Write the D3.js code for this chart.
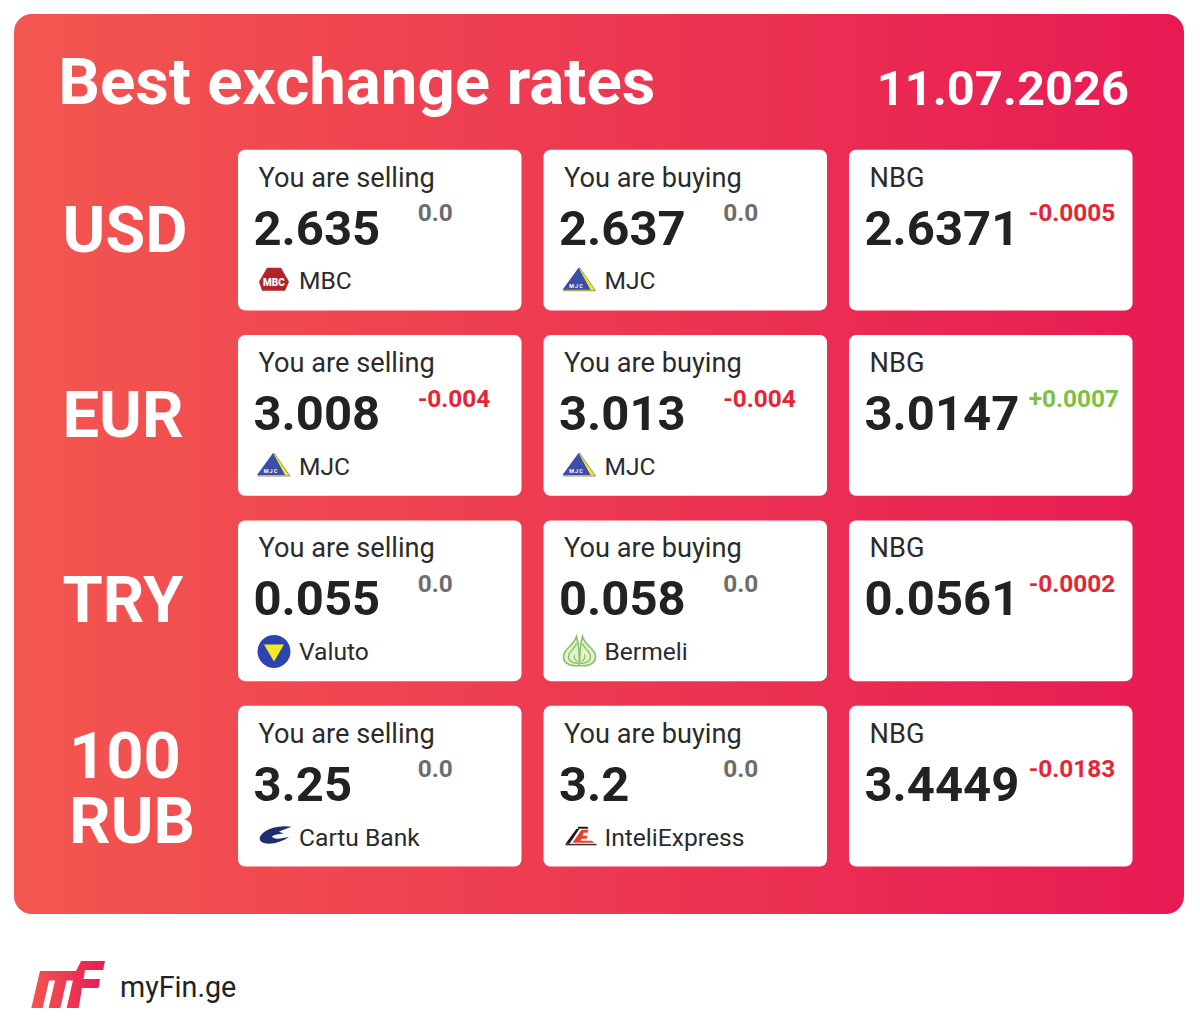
<!DOCTYPE html>
<html><head><meta charset="utf-8">
<script src="https://cdn.jsdelivr.net/npm/d3@7"></script>
<style>html,body{margin:0;padding:0;background:#fff}svg{display:block}text{font-family:Roboto,sans-serif}</style>
</head><body><div id="c"></div>
<script>
const titleText = "Best exchange rates";
const dateText = "11.07.2026";
const brandText = "myFin.ge";
const currencies = ["USD", "EUR", "TRY", "100 RUB"];
const columns = ["You are selling", "You are buying", "NBG"];
const sellValues = ["2.635", "3.008", "0.055", "3.25"];
const sellDeltas = ["0.0", "-0.004", "0.0", "0.0"];
const sellProviders = ["MBC", "MJC", "Valuto", "Cartu Bank"];
const buyValues = ["2.637", "3.013", "0.058", "3.2"];
const buyDeltas = ["0.0", "-0.004", "0.0", "0.0"];
const buyProviders = ["MJC", "MJC", "Bermeli", "InteliExpress"];
const nbgValues = ["2.6371", "3.0147", "0.0561", "3.4449"];
const nbgDeltas = ["-0.0005", "+0.0007", "-0.0002", "-0.0183"];

const W = 1200, H = 1023;
const svg = d3.select("#c").append("svg").attr("width", W).attr("height", H);
const defs = svg.append("defs");
const grad = (id, x1, x2) => {
  const g = defs.append("linearGradient").attr("id", id).attr("gradientUnits", "userSpaceOnUse")
    .attr("x1", x1).attr("x2", x2).attr("y1", 0).attr("y2", 0);
  g.append("stop").attr("offset", 0).attr("stop-color", "#f3574f");
  g.append("stop").attr("offset", 1).attr("stop-color", "#e71a54");
};
grad("bg", 14, 1184);
grad("lg", 30, 106);

svg.append("rect").attr("x", 14).attr("y", 14).attr("width", 1170).attr("height", 900).attr("rx", 18).attr("fill", "url(#bg)");

const x = d3.scaleBand().domain(columns).range([238, 1154.5]);
const y = d3.scaleBand().domain(currencies).range([149.7, 891.2]);
const cardW = 283.5, cardH = 160.7;

svg.append("text").text(titleText).attr("x", 58.2).attr("y", 104).attr("font-size", 65.4).attr("font-weight", 700).attr("fill", "#fff");
svg.append("text").text(dateText).attr("x", 1129).attr("y", 105).attr("text-anchor", "end").attr("font-size", 48.8).attr("font-weight", 700).attr("fill", "#fff");

// row labels
const labelLines = { "USD": [["USD", 62.5, 252]], "EUR": [["EUR", 62.5, 252]], "TRY": [["TRY", 62.5, 252]], "100 RUB": [["100", 69, 222], ["RUB", 69, 287]] };
currencies.forEach(c => {
  labelLines[c].forEach(([t, lx, ly]) => {
    svg.append("text").text(t).attr("x", lx).attr("y", y(c) - 150 + ly).attr("font-size", 65).attr("font-weight", 700).attr("fill", "#fff");
  });
});

const deltaColor = d => d.startsWith("-") ? "#e32636" : d.startsWith("+") ? "#7cc242" : "#6d6d6d";

const logos = {
  MBC(g) {
    g.append("path").attr("d", "M-7,-13L7,-13L15,1L11,10L-12,10L-15,1Z").attr("fill", "#b3242a");
    g.append("text").text("MBC").attr("text-anchor", "middle").attr("y", 5).attr("font-size", 10).attr("font-weight", 900).attr("fill", "#fff");
  },
  MJC(g) {
    g.append("path").attr("d", "M0,-13L16,10L-16,10L-4,-2Z").attr("fill", "#f3e23a").attr("stroke", "#55601c").attr("stroke-width", .6);
    g.append("path").attr("d", "M-1,-13L11,9L-17,9Z").attr("fill", "#3b4ea8");
    g.append("text").text("MJC").attr("x", -3).attr("y", 7).attr("text-anchor", "middle").attr("font-size", 5.5).attr("font-weight", 700).attr("letter-spacing", 1).attr("fill", "#fff");
  },
  Valuto(g) {
    g.append("circle").attr("r", 16.5).attr("fill", "#2c44b0");
    g.append("path").attr("d", "M-10,-7L10,-7L0,10Z").attr("fill", "#f8ea1e");
  },
  Bermeli(g) {
    const leaf = "M0,14C-5,15 -16,14 -16,5C-16,-3 -6,-5 -3,-15C-1,-8 0,0 0,14Z";
    [1, -1].forEach(s => {
      const l = g.append("g").attr("transform", `scale(${s},1)`);
      l.append("path").attr("d", leaf).attr("fill", "#e3f2d3").attr("stroke", "#86c060").attr("stroke-width", 1.6);
      l.append("path").attr("d", "M-1,12C-4,12 -11,11 -11,5C-11,0 -5,-2 -3,-8").attr("fill", "none").attr("stroke", "#86c060").attr("stroke-width", 1.3);
      l.append("path").attr("d", "M-2,10C-4,9 -6,7 -5,3").attr("fill", "none").attr("stroke", "#86c060").attr("stroke-width", 1.1);
    });
  },
  "Cartu Bank"(g) {
    g.append("path").attr("d", "M18,-10C5,-12 -10,-8 -14,0C-16,6 -8,8 0,6.5C6,5 12,3 15,0C8,2 0,3 -2,0C-1,-2 5,-3 10,-3L5,-5C9,-7 14,-9 18,-10Z").attr("fill", "#1d2f6f");
  },
  InteliExpress(g) {
    g.append("path").attr("d", "M-14,7L-3,-8L0,-8L-10,7Z").attr("fill", "#1b1b1b");
    g.append("path").attr("d", "M-2,-10L8,-10L9,-8L-1,-8Z").attr("fill", "#1b1b1b");
    g.append("path").attr("d", "M-7,6L2,-7L9,-7L8,-4L4,-4L3,-1L8,-1L7,2L2,2L1,4L12,4L15,6Z").attr("fill", "#e8402a");
    g.append("path").attr("d", "M-14,7L17,7L17,8.5L-14,8.5Z").attr("fill", "#333");
  }
};

const rows = currencies.map((c, i) => [
  { col: columns[0], v: sellValues[i], d: sellDeltas[i], p: sellProviders[i] },
  { col: columns[1], v: buyValues[i], d: buyDeltas[i], p: buyProviders[i] },
  { col: columns[2], v: nbgValues[i], d: nbgDeltas[i], p: null }
].map(o => ({ ...o, cur: c })));

const cards = svg.selectAll("g.card").data(rows.flat()).join("g").attr("class", "card")
  .attr("transform", d => `translate(${x(d.col)},${y(d.cur)})`);
cards.append("rect").attr("width", cardW).attr("height", cardH).attr("rx", 7).attr("fill", "#fff");
cards.append("text").text(d => d.col).attr("x", 20.6).attr("y", 37).attr("font-size", 27.2).attr("fill", "#2b2b2b");
cards.append("text").text(d => d.v).attr("x", 15.5).attr("y", 95).attr("font-size", 49).attr("font-weight", 700).attr("fill", "#222");
cards.append("text").text(d => d.d).attr("x", 179.7).attr("y", 71.6).attr("font-size", 24.4).attr("font-weight", 700).attr("fill", d => deltaColor(d.d));
cards.filter(d => d.p).append("text").text(d => d.p).attr("x", 61).attr("y", 139.7).attr("font-size", 24.6).attr("fill", "#2b2b2b");
cards.filter(d => d.p).append("g").attr("transform", "translate(36,131)").each(function (d) { logos[d.p](d3.select(this)); });

// footer logo
const lg = svg.append("g").attr("fill", "url(#lg)");
lg.append("path").attr("d", "M40,971L76,971L81,961L105,961L103,970L85,970L83.5,979L100,979L98.5,988L82,988L78.7,1008L66.7,1008L72.9,980.6L66.6,980.6L60.3,1008L48.7,1008L55,980.6L49,980.6L42.7,1008L31.3,1008Z");
svg.append("text").text(brandText).attr("x", 120).attr("y", 997).attr("font-size", 28.7).attr("fill", "#222");
</script></body></html>
